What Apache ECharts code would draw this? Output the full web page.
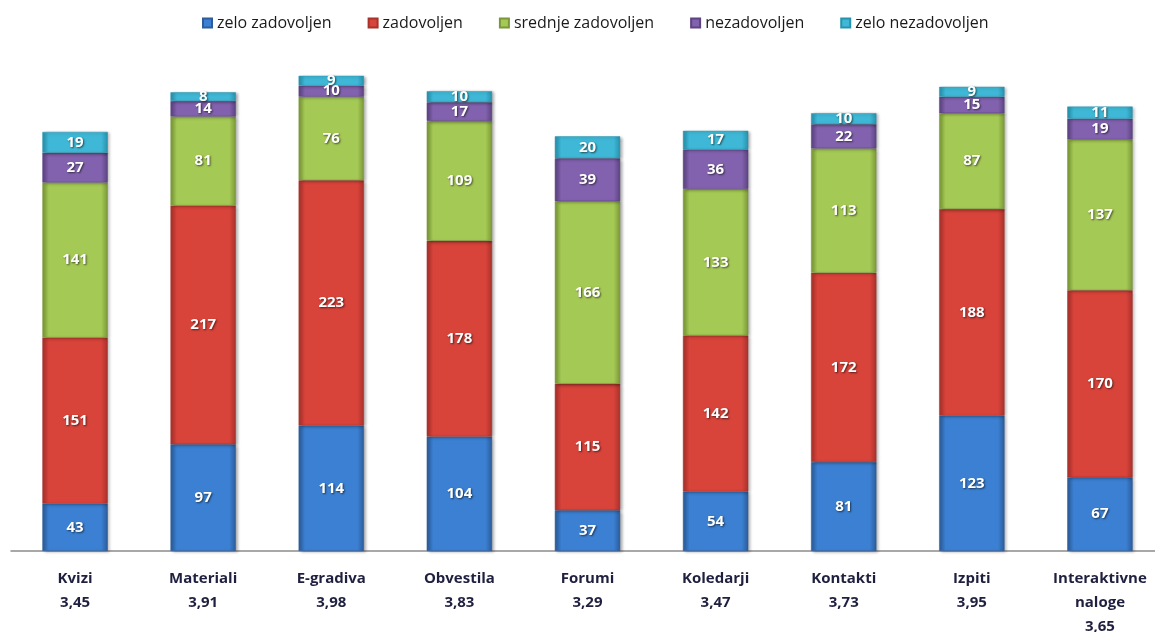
<!DOCTYPE html>
<html>
<head>
<meta charset="utf-8">
<script src="https://cdn.jsdelivr.net/npm/echarts@6/dist/echarts.min.js"></script>
<style>
    html, body { margin: 0; padding: 0; background: #fff; }
    #chart { width: 1155px; height: 632px; }
</style>
</head>
<body>
<div id="chart"></div>
<script>
// podatki
const categories = ['Kvizi', 'Materiali', 'E-gradiva', 'Obvestila', 'Forumi', 'Koledarji', 'Kontakti', 'Izpiti', 'Interaktivne\nnaloge'];
const averages = ['3,45', '3,91', '3,98', '3,83', '3,29', '3,47', '3,73', '3,95', '3,65'];

const zeloZadovoljen = [43, 97, 114, 104, 37, 54, 81, 123, 67];
const zadovoljen = [151, 217, 223, 178, 115, 142, 172, 188, 170];
const srednjeZadovoljen = [141, 81, 76, 109, 166, 133, 113, 87, 137];
const nezadovoljen = [27, 14, 10, 17, 39, 36, 22, 15, 19];
const zeloNezadovoljen = [19, 8, 9, 10, 20, 17, 10, 9, 11];

const seriesNames = ['zelo zadovoljen', 'zadovoljen', 'srednje zadovoljen', 'nezadovoljen', 'zelo nezadovoljen'];
const seriesData = [zeloZadovoljen, zadovoljen, srednjeZadovoljen, nezadovoljen, zeloNezadovoljen];

// barve: [rob, sredina]
const palette = [
    ['#2c5c9a', '#3b80d2'],
    ['#a8322c', '#d8433a'],
    ['#7a9838', '#a5c955'],
    ['#5c4382', '#8262ae'],
    ['#2892ae', '#3eb8d6']
];

function barColor(p) {
    return new echarts.graphic.LinearGradient(0, 0, 1, 0, [
        { offset: 0, color: p[0] },
        { offset: 0.1, color: p[1] },
        { offset: 0.9, color: p[1] },
        { offset: 1, color: p[0] }
    ]);
}

const chart = echarts.init(document.getElementById('chart'));

const series = seriesNames.map((name, i) => ({
    name: name,
    type: 'bar',
    stack: 'total',
    barWidth: '51%',
    data: seriesData[i],
    itemStyle: {
        color: barColor(palette[i]),
        borderColor: palette[i][0],
        borderWidth: 0.5,
        shadowColor: 'rgba(0,0,0,0.35)',
        shadowBlur: 3,
        shadowOffsetX: 2,
        shadowOffsetY: 1
    },
    label: {
        show: true,
        position: 'inside',
        color: '#fff',
        fontFamily: 'Open Sans',
        fontWeight: 'bold',
        fontSize: 15,
        textShadowColor: 'rgba(0,0,0,0.6)',
        textShadowBlur: 2,
        textShadowOffsetX: 1,
        textShadowOffsetY: 1
    }
}));

chart.setOption({
    animation: false,
    legend: {
        top: 10,
        left: 197,
        itemWidth: 9,
        itemHeight: 9,
        itemGap: 36,
        icon: 'rect',
        textStyle: {
            fontFamily: 'Open Sans',
            fontSize: 16,
            color: '#1a1a1a'
        },
        data: seriesNames
    },
    grid: {
        left: 11,
        top: 56,
        width: 1153,
        height: 495,
        outerBoundsMode: 'none'
    },
    xAxis: {
        type: 'category',
        data: categories,
        axisLine: { lineStyle: { color: '#8c8c8c', width: 1.5 } },
        axisTick: { show: false },
        axisLabel: {
            margin: 16,
            interval: 0,
            fontFamily: 'Open Sans',
            fontWeight: 'bold',
            fontSize: 15,
            lineHeight: 24,
            color: '#1f1f3f',
            formatter: (val, idx) => val + '\n' + averages[idx]
        }
    },
    yAxis: {
        type: 'value',
        min: 0,
        max: 450,
        show: false
    },
    series: series
});
</script>
</body>
</html>
